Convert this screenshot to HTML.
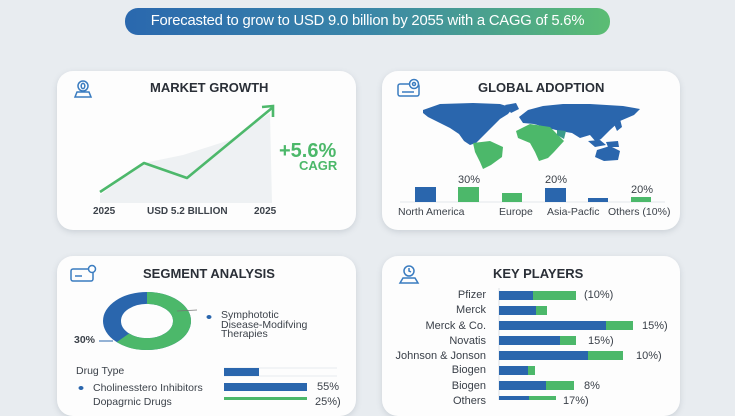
<!DOCTYPE html>
<html><head><meta charset="utf-8">
<style>
*{margin:0;padding:0;box-sizing:border-box}
html,body{width:735px;height:400px;overflow:hidden;background:#e8ecf0;font-family:"Liberation Sans",sans-serif}
.abs{position:absolute}
.card{position:absolute;background:#fdfdfd;border-radius:16px;box-shadow:0 2px 6px rgba(120,130,145,0.25)}
.pill{left:125px;top:8px;width:485px;height:27px;border-radius:13px;background:linear-gradient(90deg,#2a68ae 0%,#3a86a8 50%,#5bbd73 100%)}
.pill span{position:absolute;left:0;top:0;width:485px;text-align:center;line-height:27px;color:#fff;font-size:14.8px;letter-spacing:-0.2px}
.title{position:absolute;font-weight:bold;font-size:13px;color:#2a2f37;white-space:nowrap}
.lbl{position:absolute;font-size:10px;font-weight:bold;color:#3c424a;white-space:nowrap}
.kl{position:absolute;right:249px;font-size:11px;color:#3a4049;white-space:nowrap;text-align:right;line-height:12px}
.kv{position:absolute;font-size:11px;color:#3a4049;white-space:nowrap;line-height:12px}
</style></head><body>
<div class="abs pill"><span>Forecasted to grow to USD 9.0 billion by 2055 with a CAGG of 5.6%</span></div>

<div class="card" style="left:57px;top:71px;width:299px;height:159px"></div>
<div class="card" style="left:382px;top:71px;width:298px;height:159px"></div>
<div class="card" style="left:57px;top:256px;width:299px;height:160px"></div>
<div class="card" style="left:382px;top:256px;width:298px;height:160px"></div>

<svg class="abs" style="left:0;top:0" width="735" height="400" viewBox="0 0 735 400">
 <!-- icons -->
 <g fill="none" stroke="#3a7cc0" stroke-width="1.5">
  <circle cx="83" cy="86" r="5"/>
  <ellipse cx="83" cy="86" rx="1.8" ry="2.6"/>
  <path d="M75 97 L77 92 L89 92 L91 97 Z"/>
  <rect x="398" y="84" width="21" height="12" rx="2"/>
  <circle cx="414" cy="84" r="4.5" fill="#fff"/>
  <circle cx="414" cy="84" r="1.5"/>
  <line x1="402" y1="92" x2="414" y2="92"/>
  <rect x="71" y="269" width="22" height="12" rx="2"/>
  <circle cx="92" cy="269" r="3.5" fill="#fff"/>
  <line x1="75" y1="276" x2="82" y2="276"/>
  <circle cx="409" cy="271" r="5"/>
  <path d="M409 268 L409 271 L411 272"/>
  <path d="M400 283 L403 278 L415 278 L418 283 Z"/>
 </g>
 <!-- market growth -->
 <polygon points="100,195 144,163 183,155 230,140 270,113 272,203 100,203" fill="#eef1f3"/>
 <polyline points="100,192 144,163 187,178 272,108" fill="none" stroke="#4db86b" stroke-width="2.6" stroke-linejoin="round"/>
 <polyline points="262,107 273,106 273,117" fill="none" stroke="#4db86b" stroke-width="2.6"/>
 <!-- world map -->
 <g fill="#2a66ad">
  <polygon points="423,110 440,104 473,103 500,104 513,108 508,114 500,119 494,125 488,131 481,138 476,143 470,145 464,141 459,134 450,128 438,122 428,117 423,113"/>
  <polygon points="505,105 516,103 519,109 511,113"/>
  <polygon points="519,117 528,110 543,106 563,104 590,104 623,106 640,109 634,115 620,121 610,130 601,139 596,142 590,135 580,138 572,133 560,131 548,128 534,124 523,123"/>
  <polygon points="588,141 600,140 606,145 595,147"/>
  <polygon points="606,142 618,141 619,147 608,147"/>
  <polygon points="614,124 620,119 622,127 617,131"/>
  <polygon points="597,150 610,146 620,151 618,160 604,161 595,157"/>
 </g>
 <g fill="#4cb86a">
  <polygon points="473,143 490,141 503,147 502,157 491,165 483,169 480,162 475,152"/>
  <polygon points="516,131 530,124 550,127 557,134 564,141 554,152 548,158 539,161 535,152 530,143 518,138"/>
 </g>
 <polygon points="557,130 566,131 564,139 557,135" fill="#3a9a8a"/>
 <!-- adoption bars -->
 <line x1="400" y1="202" x2="665" y2="202" stroke="#e4e7ea" stroke-width="1"/>
 <rect x="415" y="187" width="21" height="15" fill="#2a66ad"/>
 <rect x="458" y="187" width="21" height="15" fill="#4cb86a"/>
 <rect x="502" y="193" width="20" height="9" fill="#4cb86a"/>
 <rect x="545" y="188" width="21" height="14" fill="#2a66ad"/>
 <rect x="588" y="198" width="20" height="4" fill="#2a66ad"/>
 <rect x="631" y="197" width="20" height="5" fill="#4cb86a"/>
 <!-- donut -->
 <g transform="translate(147,321) scale(1,0.66)">
  <circle r="35" fill="none" stroke="#2a66ad" stroke-width="18"/>
  <circle r="35" fill="none" stroke="#4cb86a" stroke-width="18" stroke-dasharray="136.3 300" transform="rotate(-90)"/>
 </g>
 <line x1="99" y1="341" x2="113" y2="341" stroke="#2a66ad" stroke-width="1"/>
 <line x1="177" y1="311" x2="197" y2="310" stroke="#777" stroke-width="0.8"/>
 <ellipse cx="209" cy="317" rx="2.5" ry="2" fill="#2a66ad"/>
 <ellipse cx="81" cy="388" rx="2.5" ry="2" fill="#2a66ad"/>
 <!-- drug bars -->
 <line x1="224" y1="368" x2="337" y2="368" stroke="#e8ebee"/>
 <line x1="224" y1="376" x2="337" y2="376" stroke="#e8ebee"/>
 <rect x="224" y="368" width="35" height="8" fill="#2a66ad"/>
 <rect x="224" y="383" width="83" height="8" fill="#2a66ad"/>
 <rect x="224" y="397" width="83" height="8" fill="#4cb86a"/>
 <!-- key players -->
 <line x1="499" y1="288" x2="499" y2="400" stroke="#dde1e5"/>
 <g>
  <rect x="499" y="291" width="34" height="9" fill="#2a66ad"/><rect x="533" y="291" width="43" height="9" fill="#4cb86a"/>
  <rect x="499" y="306" width="37" height="9" fill="#2a66ad"/><rect x="536" y="306" width="11" height="9" fill="#4cb86a"/>
  <rect x="499" y="321" width="107" height="9" fill="#2a66ad"/><rect x="606" y="321" width="27" height="9" fill="#4cb86a"/>
  <rect x="499" y="336" width="61" height="9" fill="#2a66ad"/><rect x="560" y="336" width="16" height="9" fill="#4cb86a"/>
  <rect x="499" y="351" width="89" height="9" fill="#2a66ad"/><rect x="588" y="351" width="35" height="9" fill="#4cb86a"/>
  <rect x="499" y="366" width="29" height="9" fill="#2a66ad"/><rect x="528" y="366" width="7" height="9" fill="#4cb86a"/>
  <rect x="499" y="381" width="47" height="9" fill="#2a66ad"/><rect x="546" y="381" width="28" height="9" fill="#4cb86a"/>
  <rect x="499" y="396" width="30" height="9" fill="#2a66ad"/><rect x="529" y="396" width="27" height="9" fill="#4cb86a"/>
 </g>
</svg>

<div class="title" style="left:150px;top:80px">MARKET GROWTH</div>
<div class="lbl" style="left:93px;top:206px">2025</div>
<div class="lbl" style="left:147px;top:206px">USD 5.2 BILLION</div>
<div class="lbl" style="left:254px;top:206px">2025</div>
<div class="abs" style="left:279px;top:140px;font-size:20px;font-weight:bold;color:#4cb86a">+5.6%</div>
<div class="abs" style="left:299px;top:158px;font-size:13px;font-weight:bold;color:#4cb86a">CAGR</div>

<div class="title" style="left:478px;top:80px">GLOBAL ADOPTION</div>
<div class="abs" style="left:458px;top:174px;font-size:11px;color:#3c424a">30%</div>
<div class="abs" style="left:545px;top:174px;font-size:11px;color:#3c424a">20%</div>
<div class="abs" style="left:631px;top:184px;font-size:11px;color:#3c424a">20%</div>
<div class="abs" style="left:398px;top:206px;font-size:10.5px;color:#3c424a">North America</div>
<div class="abs" style="left:499px;top:206px;font-size:10.5px;color:#3c424a">Europe</div>
<div class="abs" style="left:547px;top:206px;font-size:10.5px;color:#3c424a">Asia-Pacfic</div>
<div class="abs" style="left:608px;top:206px;font-size:10.5px;color:#3c424a">Others (10%)</div>

<div class="title" style="left:143px;top:266px">SEGMENT ANALYSIS</div>
<div class="abs" style="left:74px;top:334px;font-size:10.5px;font-weight:bold;color:#3c424a">30%</div>
<div class="abs" style="left:221px;top:311px;font-size:10.5px;color:#3c424a;line-height:9.7px">Symphototic<br>Disease-Modifving<br>Therapies</div>
<div class="abs" style="left:76px;top:365px;font-size:10.5px;color:#3c424a">Drug Type</div>
<div class="abs" style="left:93px;top:382px;font-size:10.5px;color:#3c424a">Cholinesstero Inhibitors</div>
<div class="abs" style="left:93px;top:396px;font-size:10.5px;color:#3c424a">Dopagrnic Drugs</div>
<div class="abs" style="left:317px;top:381px;font-size:11px;color:#3c424a">55%</div>
<div class="abs" style="left:315px;top:396px;font-size:11px;color:#3c424a">25%)</div>

<div class="title" style="left:493px;top:266px">KEY PLAYERS</div>
<div class="kl" style="top:289px">Pfizer</div>
<div class="kl" style="top:304px">Merck</div>
<div class="kl" style="top:320px">Merck &amp; Co.</div>
<div class="kl" style="top:335px">Novatis</div>
<div class="kl" style="top:350px">Johnson &amp; Jonson</div>
<div class="kl" style="top:364px">Biogen</div>
<div class="kl" style="top:380px">Biogen</div>
<div class="kl" style="top:395px">Others</div>
<div class="kv" style="left:584px;top:289px">(10%)</div>
<div class="kv" style="left:642px;top:320px">15%)</div>
<div class="kv" style="left:588px;top:335px">15%)</div>
<div class="kv" style="left:636px;top:350px">10%)</div>
<div class="kv" style="left:584px;top:380px">8%</div>
<div class="kv" style="left:563px;top:395px">17%)</div>
</body></html>
